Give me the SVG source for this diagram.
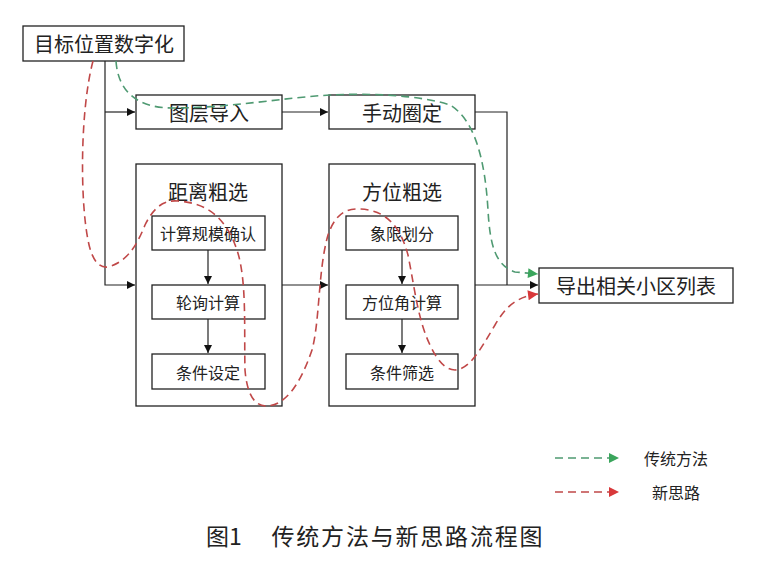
<svg xmlns="http://www.w3.org/2000/svg" width="764" height="564" viewBox="0 0 764 564">
<defs>
<style>
.box{fill:#fff;stroke:#222;stroke-width:1.3}
.frame{fill:none;stroke:#222;stroke-width:1.3}
.t{font-family:"Noto Sans CJK SC","Noto Sans",sans-serif;fill:#222;text-anchor:middle;dominant-baseline:central}
.ln{fill:none;stroke:#222;stroke-width:1.2}
.gd{fill:none;stroke:#4f9a72;stroke-width:1.6;stroke-dasharray:8 5}
.rd{fill:none;stroke:#c04848;stroke-width:1.6;stroke-dasharray:8 5}
</style>
<marker id="ab" viewBox="0 0 10 10" refX="10" refY="5" markerWidth="10" markerHeight="8" markerUnits="userSpaceOnUse" orient="auto"><path d="M0,0 L10,5 L0,10 z" fill="#111"/></marker>
<marker id="ag" viewBox="0 0 10 10" refX="10" refY="5" markerWidth="14" markerHeight="10" markerUnits="userSpaceOnUse" orient="auto"><path d="M0,0 L10,5 L0,10 z" fill="#3aa55c"/></marker>
<marker id="ar" viewBox="0 0 10 10" refX="10" refY="5" markerWidth="14" markerHeight="10" markerUnits="userSpaceOnUse" orient="auto"><path d="M0,0 L10,5 L0,10 z" fill="#d8383a"/></marker>
</defs>
<rect width="764" height="564" fill="#fff"/>

<g id="n-target"><rect class="box" x="23" y="26" width="161" height="35"/><text class="t" x="104" y="43.5" font-size="20">目标位置数字化</text></g>
<g id="n-layer"><rect class="box" x="136" y="95" width="146" height="34"/><text class="t" x="209" y="112" font-size="20">图层导入</text></g>
<g id="n-manual"><rect class="box" x="329" y="95" width="146" height="34"/><text class="t" x="402" y="112" font-size="20">手动圈定</text></g>
<g id="n-dist"><rect class="frame" x="136" y="164" width="146" height="242"/><text class="t" x="208" y="191" font-size="20">距离粗选</text></g>
<g id="n-dist1"><rect class="box" x="152" y="216" width="113" height="34"/><text class="t" x="208" y="233" font-size="16">计算规模确认</text></g>
<g id="n-dist2"><rect class="box" x="152" y="285" width="113" height="34"/><text class="t" x="208" y="302" font-size="16">轮询计算</text></g>
<g id="n-dist3"><rect class="box" x="152" y="354" width="113" height="35"/><text class="t" x="208" y="371.5" font-size="16">条件设定</text></g>
<g id="n-azi"><rect class="frame" x="329" y="164" width="146" height="242"/><text class="t" x="402" y="191" font-size="20">方位粗选</text></g>
<g id="n-azi1"><rect class="box" x="346" y="216" width="112" height="34"/><text class="t" x="402" y="233" font-size="16">象限划分</text></g>
<g id="n-azi2"><rect class="box" x="346" y="285" width="112" height="34"/><text class="t" x="402" y="302" font-size="16">方位角计算</text></g>
<g id="n-azi3"><rect class="box" x="346" y="354" width="112" height="35"/><text class="t" x="402" y="371.5" font-size="16">条件筛选</text></g>
<g id="n-out"><rect class="box" x="539" y="268" width="194" height="35"/><text class="t" x="636" y="285.5" font-size="20">导出相关小区列表</text></g>

<g id="connectors">
<path class="ln" d="M105,61 V285 H135" marker-end="url(#ab)"/>
<path class="ln" d="M105,112 H135" marker-end="url(#ab)"/>
<path class="ln" d="M282,112 H328" marker-end="url(#ab)"/>
<path class="ln" d="M475,112 H507 V285"/>
<path class="ln" d="M282,285 H328" marker-end="url(#ab)"/>
<path class="ln" d="M475,285 H538" marker-end="url(#ab)"/>
<path class="ln" d="M208,250 V284" marker-end="url(#ab)"/>
<path class="ln" d="M208,319 V353" marker-end="url(#ab)"/>
<path class="ln" d="M402,250 V284" marker-end="url(#ab)"/>
<path class="ln" d="M402,319 V353" marker-end="url(#ab)"/>
</g>

<g id="flows">
<path class="gd" d="M116,61 C118,92 138,108 172,108 C230,108 280,98 330,95 C370,93 420,95 450,105 C475,120 485,160 488,210 C490,245 495,265 515,272 L538,274" marker-end="url(#ag)"/>
<path class="rd" d="M93,61 C80,110 80,200 88,240 C92,262 100,268 108,267 C125,262 135,250 145,225 C155,205 165,200 178,201 C205,203 225,215 237,250 C247,280 244,330 245,370 C247,395 255,406 266,406 C285,406 300,385 312,350 C320,320 318,270 328,235 C335,215 345,208 360,209 C385,210 400,225 408,255 C415,290 418,320 430,345 C437,360 445,370 455,370 C470,369 480,350 495,325 C505,308 515,297 538,294" marker-end="url(#ar)"/>
</g>

<g id="legend">
<path class="gd" d="M555,458 H619" marker-end="url(#ag)"/>
<text class="t" x="676" y="458" font-size="16">传统方法</text>
<path class="rd" d="M555,492 H619" marker-end="url(#ar)"/>
<text class="t" x="676" y="492" font-size="16">新思路</text>
</g>

<g id="caption">
<text class="t" x="224" y="535" font-size="23">图1</text>
<text class="t" x="407" y="535" font-size="23" textLength="271" lengthAdjust="spacing">传统方法与新思路流程图</text>
</g>
</svg>
